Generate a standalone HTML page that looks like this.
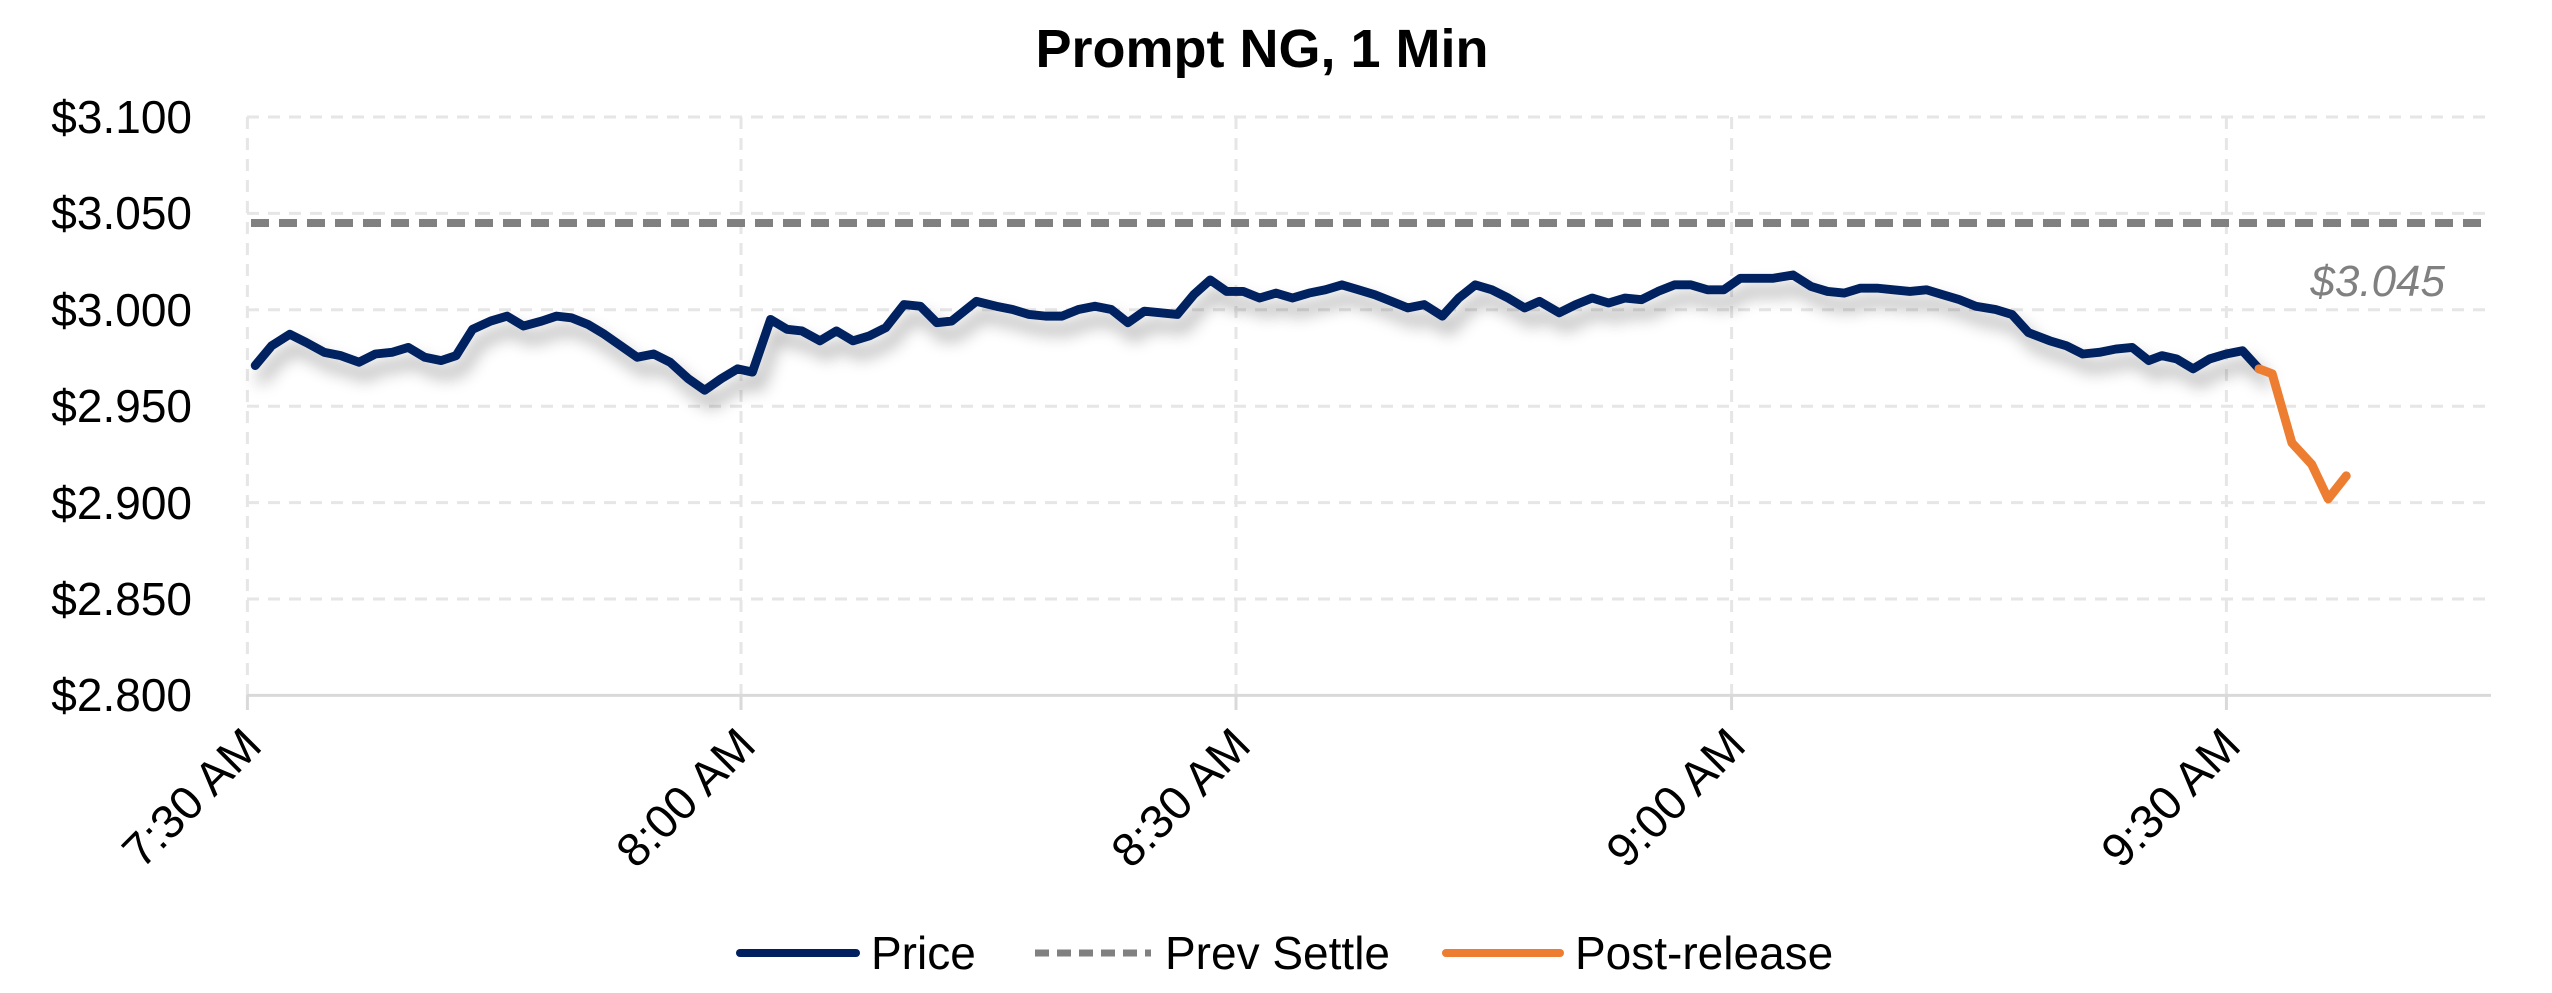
<!DOCTYPE html>
<html><head><meta charset="utf-8"><style>
html,body{margin:0;padding:0;background:#fff;}
svg{display:block;}
text{font-family:"Liberation Sans",sans-serif;}
</style></head><body>
<svg width="2552" height="993" viewBox="0 0 2552 993" xmlns="http://www.w3.org/2000/svg">
<defs>
<filter id="sh" x="-5%" y="-20%" width="110%" height="160%">
<feDropShadow dx="4" dy="8" stdDeviation="5" flood-color="#000" flood-opacity="0.35"/>
</filter>
</defs>
<text x="1262" y="67" font-size="54" font-weight="bold" text-anchor="middle" fill="#000">Prompt NG, 1 Min</text>
<g stroke="#e6e6e6" stroke-width="3" stroke-dasharray="12 9" fill="none">
<line x1="247" y1="117" x2="2488" y2="117"/>
<line x1="247" y1="213.4" x2="2488" y2="213.4"/>
<line x1="247" y1="309.8" x2="2488" y2="309.8"/>
<line x1="247" y1="406.2" x2="2488" y2="406.2"/>
<line x1="247" y1="502.6" x2="2488" y2="502.6"/>
<line x1="247" y1="599" x2="2488" y2="599"/>
<line x1="247.4" y1="117" x2="247.4" y2="695"/>
<line x1="741" y1="117" x2="741" y2="695"/>
<line x1="1236" y1="117" x2="1236" y2="695"/>
<line x1="1731.6" y1="117" x2="1731.6" y2="695"/>
<line x1="2226.4" y1="117" x2="2226.4" y2="695"/>
</g>
<line x1="247" y1="695.4" x2="2491" y2="695.4" stroke="#d9d9d9" stroke-width="3"/>
<g stroke="#d9d9d9" stroke-width="3">
<line x1="247.4" y1="695" x2="247.4" y2="710"/>
<line x1="741" y1="695" x2="741" y2="710"/>
<line x1="1236" y1="695" x2="1236" y2="710"/>
<line x1="1731.6" y1="695" x2="1731.6" y2="710"/>
<line x1="2226.4" y1="695" x2="2226.4" y2="710"/>
</g>
<g font-size="46" fill="#000" text-anchor="end">
<text x="192" y="133">$3.100</text>
<text x="192" y="229">$3.050</text>
<text x="192" y="326">$3.000</text>
<text x="192" y="422">$2.950</text>
<text x="192" y="519">$2.900</text>
<text x="192" y="615">$2.850</text>
<text x="192" y="711">$2.800</text>
</g>
<g font-size="47" fill="#000" text-anchor="end">
<text transform="translate(264,748) rotate(-45)">7:30 AM</text>
<text transform="translate(758,748) rotate(-45)">8:00 AM</text>
<text transform="translate(1253,748) rotate(-45)">8:30 AM</text>
<text transform="translate(1748,748) rotate(-45)">9:00 AM</text>
<text transform="translate(2243,748) rotate(-45)">9:30 AM</text>
</g>
<line x1="251" y1="223" x2="2483" y2="223" stroke="#808080" stroke-width="8" stroke-dasharray="18 10" stroke-linecap="butt"/>
<text x="2445" y="296" font-size="44" font-style="italic" fill="#808080" text-anchor="end">$3.045</text>
<g transform="scale(1.6465)" fill="none" stroke-linejoin="round" stroke-linecap="round" filter="url(#sh)">
<polyline stroke="#002060" stroke-width="5.4" points="155,222 165,210 176,203 186,208 197,214 207,216 218,220 228,215 238,214 248,211 258,217 268,219 277,216 287,200 298,195 308,192 318,198 329,195 338,192 347,193 357,197 367,203 377,210 387,217 397,215 407,220 418,230 428,237 438,230 448,224 457,226 468,194 478,200 487,201 498,207 508,201 518,207 528,204 538,199 549,185 559,186 569,196 578,195 593,183 605,186 615,188 625,191 635,192 645,192 655,188 665,186 675,188 685,196 695,189 705,190 715,191 725,179 735,170 745,177 755,177 765,181 775,178 785,181 795,178 805,176 815,173 825,176 835,179 845,183 855,187 865,185 876,192 886,181 896,173 906,176 916,181 926,187 935,183 947,190 957,185 967,181 977,184 987,181 997,182 1007,177 1017,173 1027,173 1037,176 1047,176 1057,169 1067,169 1077,169 1089,167 1100,174 1110,177 1120,178 1130,175 1140,175 1150,176 1160,177 1170,176 1180,179 1190,182 1200,186 1212,188 1222,191 1232,202 1245,207 1255,210 1265,215 1275,214 1285,212 1295,211 1305,219 1313,216 1322,218 1332,224 1342,218 1352,215 1362,213 1372,224"/>
</g>
<g transform="scale(1.6465)" fill="none" stroke-linejoin="round" stroke-linecap="round">
<polyline stroke="#ED7D31" stroke-width="5.4" points="1372,224 1380,227 1392,269 1404,282 1414,303 1425,289"/>
</g>
<line x1="740" y1="953" x2="856" y2="953" stroke="#002060" stroke-width="8" stroke-linecap="round"/>
<text x="871" y="969" font-size="46" fill="#000">Price</text>
<line x1="1035" y1="953" x2="1151" y2="953" stroke="#808080" stroke-width="7" stroke-dasharray="14 8"/>
<text x="1165" y="969" font-size="46" fill="#000">Prev Settle</text>
<line x1="1446" y1="953" x2="1560" y2="953" stroke="#ED7D31" stroke-width="8" stroke-linecap="round"/>
<text x="1575" y="969" font-size="46" fill="#000">Post-release</text>
</svg>
</body></html>
